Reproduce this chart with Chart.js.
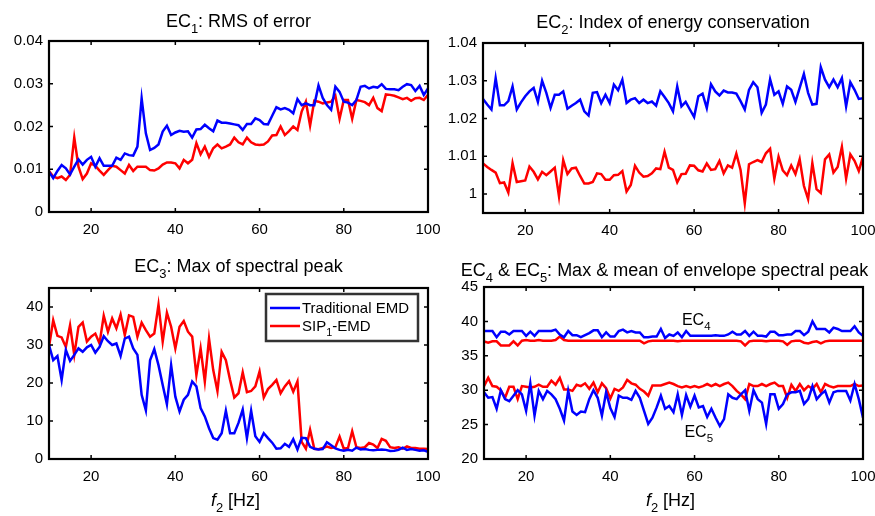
<!DOCTYPE html>
<html lang="en">
  <head>
    <meta charset="UTF-8" />
    <title>Traditional EMD vs SIP1-EMD</title>
    <script src="https://cdn.jsdelivr.net/npm/chart.js"></script>
    <style>
      body { margin: 0; background: #fff; }
      #wrap { position: relative; width: 875px; height: 516px; }
      #wrap canvas { position: absolute; left: 0; top: 0; }
    </style>
  </head>
  <body>
    <div id="wrap">
      <canvas id="ec1" width="875" height="516"></canvas>
      <canvas id="ec2" width="875" height="516"></canvas>
      <canvas id="ec3" width="875" height="516"></canvas>
      <canvas id="ec45" width="875" height="516"></canvas>
    </div>

    <script>
      // f2 [Hz]
      const f2 = [
        10, 11, 12, 13, 14, 15, 16, 17, 18, 19,
        20, 21, 22, 23, 24, 25, 26, 27, 28, 29,
        30, 31, 32, 33, 34, 35, 36, 37, 38, 39,
        40, 41, 42, 43, 44, 45, 46, 47, 48, 49,
        50, 51, 52, 53, 54, 55, 56, 57, 58, 59,
        60, 61, 62, 63, 64, 65, 66, 67, 68, 69,
        70, 71, 72, 73, 74, 75, 76, 77, 78, 79,
        80, 81, 82, 83, 84, 85, 86, 87, 88, 89,
        90, 91, 92, 93, 94, 95, 96, 97, 98, 99,
        100,
      ];
      const xTicks = [20, 40, 60, 80, 100];

      // EC1: RMS of error
      const ec1Trad = [
        0.0094, 0.0079, 0.0096, 0.011, 0.0102, 0.0088, 0.0106, 0.0123, 0.0111, 0.0122,
        0.0129, 0.0106, 0.0126, 0.0108, 0.0108, 0.0108, 0.0127, 0.0122, 0.0137, 0.0133,
        0.0132, 0.0153, 0.0266, 0.0184, 0.0145, 0.015, 0.0158, 0.0188, 0.0202, 0.018,
        0.0186, 0.019, 0.0188, 0.0189, 0.0174, 0.0193, 0.0194, 0.0204, 0.0196, 0.0189,
        0.0214, 0.0209, 0.0209, 0.0207, 0.0205, 0.0203, 0.0192, 0.0206, 0.0206, 0.0219,
        0.0215, 0.0206, 0.0205, 0.0225, 0.0245, 0.024, 0.0243, 0.0239, 0.0231, 0.0264,
        0.025, 0.0254, 0.025, 0.025, 0.0296, 0.0267, 0.025, 0.0239, 0.0293, 0.0281,
        0.0258, 0.0256, 0.025, 0.0262, 0.0293, 0.0295, 0.0289, 0.0293, 0.0291, 0.0299,
        0.0288, 0.0287, 0.0287, 0.0285, 0.0293, 0.0299, 0.0297, 0.0283, 0.0295, 0.0274,
        0.0289,
      ];
      const ec1Sip = [
        0.0096, 0.0083, 0.0079, 0.0083, 0.0075, 0.0087, 0.0174, 0.0106, 0.0077, 0.009,
        0.0114, 0.0108, 0.0097, 0.0087, 0.0098, 0.0108, 0.0106, 0.0098, 0.009, 0.011,
        0.0096, 0.0106, 0.0106, 0.0106, 0.0098, 0.0097, 0.0102, 0.0111, 0.0116, 0.0116,
        0.0114, 0.0102, 0.0122, 0.0114, 0.0122, 0.0161, 0.0135, 0.0153, 0.0129, 0.0149,
        0.0158, 0.0149, 0.0153, 0.0158, 0.0174, 0.0163, 0.0158, 0.0174, 0.0163, 0.0158,
        0.0157, 0.0158, 0.0165, 0.0179, 0.018, 0.02, 0.018, 0.0189, 0.02, 0.0192,
        0.0235, 0.0258, 0.0202, 0.026, 0.0258, 0.0254, 0.0256, 0.0258, 0.0272, 0.0218,
        0.0262, 0.0262, 0.0218, 0.0262, 0.026, 0.0257, 0.025, 0.0267, 0.0243, 0.0236,
        0.0275, 0.0274, 0.0272, 0.0268, 0.0264, 0.0267, 0.026, 0.0266, 0.0267, 0.0262,
        0.0274,
      ];
      const ec1Ticks = [0, 0.01, 0.02, 0.03, 0.04];
      const ec1Labels = ["0", "0.01", "0.02", "0.03", "0.04"];

      // EC2: Index of energy conservation
      const ec2Trad = [
        1.0252, 1.0237, 1.0224, 1.0307, 1.0235, 1.0235, 1.0246, 1.0285, 1.0224, 1.0243,
        1.0259, 1.0272, 1.0281, 1.0244, 1.03, 1.0268, 1.0228, 1.0263, 1.0263, 1.0272,
        1.0226, 1.0234, 1.0241, 1.025, 1.0219, 1.0208, 1.0268, 1.027, 1.0241, 1.0263,
        1.0241, 1.029, 1.0275, 1.0303, 1.0241, 1.025, 1.0254, 1.0241, 1.025, 1.0241,
        1.0245, 1.0234, 1.0272, 1.0257, 1.0241, 1.0219, 1.0285, 1.0232, 1.0244, 1.0224,
        1.0204, 1.0259, 1.0266, 1.0228, 1.0291, 1.0272, 1.0261, 1.0274, 1.0269, 1.0269,
        1.0266, 1.0246, 1.0224, 1.0276, 1.0296, 1.0283, 1.0215, 1.0237, 1.0304, 1.0263,
        1.0272, 1.0239, 1.0285, 1.0276, 1.0244, 1.0281, 1.0318, 1.0268, 1.0237, 1.0239,
        1.0336, 1.0303, 1.0283, 1.0303, 1.0283, 1.0307, 1.0232, 1.0296, 1.0276, 1.0252,
        1.0254,
      ];
      const ec2Sip = [
        1.0081, 1.0072, 1.0064, 1.0057, 1.0029, 1.0031, 1.0004, 1.0082, 1.0032, 1.0034,
        1.0036, 1.0073, 1.0059, 1.0039, 1.0059, 1.005, 1.006, 1.007, 0.9994, 1.009,
        1.0053, 1.0068, 1.007, 1.0048, 1.0028, 1.0028, 1.0032, 1.0055, 1.0053, 1.0038,
        1.0038, 1.005, 1.0051, 1.0061, 1.0007, 1.0024, 1.0075, 1.0057, 1.0046, 1.0048,
        1.0055, 1.0068, 1.0066, 1.0112, 1.007, 1.0064, 1.0031, 1.0053, 1.0054, 1.0076,
        1.0075, 1.0063, 1.006, 1.0081, 1.0064, 1.0066, 1.0088, 1.0055, 1.0076, 1.007,
        1.0107, 1.0064, 0.9976, 1.0079, 1.0085, 1.009, 1.0085, 1.0108, 1.012, 1.0041,
        1.0099, 1.0063, 1.005, 1.0076, 1.0053, 1.0092, 1.0022, 0.9987, 1.0082, 1.0013,
        1.0003, 1.0092, 1.0105, 1.0057, 1.0072, 1.0125, 1.0041, 1.0105, 1.0088, 1.0061,
        1.0099,
      ];
      const ec2Ticks = [1, 1.01, 1.02, 1.03, 1.04];
      const ec2Labels = ["1", "1.01", "1.02", "1.03", "1.04"];

      // EC3: Max of spectral peak
      const ec3Trad = [
        30, 26, 27.1, 20.8, 28.7, 25.8, 27.4, 29.1, 28.2, 29.4,
        30, 28, 29.5, 32.3, 31, 30, 30.4, 27.1, 31.7, 32.2,
        29.1, 27.4, 16.9, 12.8, 26, 28.9, 24.7, 19.5, 14.4, 24.7,
        16.4, 12.5, 15.6, 16.9, 20.4, 19.1, 13.4, 11.2, 8.1, 5.5,
        5.1, 6.8, 12.7, 6.8, 6.8, 9.5, 13, 5.5, 12.7, 6,
        4.5, 6.8, 5.5, 4.3, 2.7, 2.8, 4, 3.2, 5.2, 2.5,
        5.6, 5.5, 3.2, 2.7, 2.5, 2.6, 4.4, 3.6, 2.8, 2.4,
        2.2, 2.4, 2.2, 3, 2.5, 2.6, 2.4, 2.3, 2.4, 2.5,
        2.4, 2.1, 2.2, 2.4, 3, 2.4, 2.6, 2.4, 2.2, 2.3,
        1.9,
      ];
      const ec3Sip = [
        29.5, 36.5, 32.4, 32, 29.5, 35.2, 27.4, 34.8, 35.9, 30.9,
        32.2, 33, 30.4, 37.7, 33.5, 37, 34.4, 38, 32.6, 37.8,
        37.4, 32.2, 35.9, 33.9, 32.2, 33, 40.6, 30.9, 38.5, 34.8,
        29.1, 34.8, 36.3, 33.5, 32.2, 22.1, 29.1, 20.4, 31.7, 23.4,
        17.9, 28.2, 26, 20.8, 16.2, 17.3, 22.8, 17.6, 17.9, 19.1,
        23, 16.2, 18.4, 19.5, 20.8, 17.3, 19.1, 20.5, 17.7, 20.4,
        4.5, 2.7, 7.7, 2.7, 2.6, 2.9, 3.3, 2.9, 3.1, 5.9,
        2.7, 2.9, 7.3, 3.1, 2.9, 3.1, 4.2, 3.8, 2.9, 5.3,
        4.8, 3.1, 2.9, 3.1, 2.7, 3.3, 2.9, 2.9, 2.7, 2.7,
        2.6,
      ];
      const ec3Ticks = [0, 10, 20, 30, 40];
      const ec3Labels = ["0", "10", "20", "30", "40"];

      // EC4 & EC5: Max & mean of envelope spectral peak
      const ec4Trad = [
        38.6, 38.6, 38.6, 37.7, 38.5, 38.5, 38.1, 38.6, 38.6, 38.6,
        37.9, 38.5, 37.9, 38.6, 38.6, 38.6, 38.6, 38.8, 38.1, 37.7,
        38.6, 38, 38, 37.7, 38, 38.3, 38.7, 38.7, 37.7, 38.4,
        37.8, 37.8, 38.6, 38.8, 38.4, 38.6, 38.4, 38.4, 37.7, 37.7,
        37.8, 37.8, 38.9, 37.6, 38.1, 37.9, 38.4, 37.7, 38.6, 37.9,
        37.9, 37.9, 37.9, 37.9, 37.9, 38, 37.9, 37.9, 38.1, 38.5,
        38.1, 38.1, 38.6, 37.9, 38.5, 37.9, 37.9, 37.8, 38.5, 38.5,
        38, 38, 38.1, 38.1, 38.6, 38.6, 38, 38.5, 40, 38.9,
        38.9, 38.9, 38.4, 39.1, 38.9, 38.6, 38.6, 38.6, 39.3, 38.4,
        37.9,
      ];
      const ec4Sip = [
        37.1, 36.9, 37.1, 37.1, 36.5, 36.5, 36.5, 37.1, 36.5, 37.2,
        37.3, 37.2, 37.2, 37.3, 37.2, 37.2, 37.2, 37.3, 37.8, 37.3,
        37.2, 37.2, 37.2, 37.2, 37.2, 37.2, 37.2, 37.2, 37.2, 37.2,
        37.2, 37.2, 37.2, 37.2, 37.2, 37.2, 37.2, 37.2, 36.8, 37.1,
        37.2, 37.2, 37.2, 37.2, 37.2, 37.2, 37.1, 37.2, 37.2, 37.2,
        37.2, 37.2, 37.2, 37.2, 37.2, 37.2, 37.2, 37.2, 37.2, 37.2,
        37.2, 37.1, 36.5, 37.1, 37.2, 37.2, 37.2, 37.1, 37.2, 37.2,
        37.2, 37.1, 36.6, 37.1, 37.2, 37.2, 36.9, 36.8, 37, 37.1,
        36.8, 37.1, 37.2, 37.2, 37.2, 37.2, 37.2, 37.2, 37.2, 37.2,
        37.2,
      ];
      const ec5Trad = [
        29.7, 28.9, 29, 27.3, 30, 28.7, 28.4, 29.2, 30, 29.4,
        27, 31, 26.3, 29.9, 28.7, 29.9, 29.4, 28.7, 27.3, 25.6,
        29.9, 26.9, 26.4, 26.9, 26.8, 28.7, 30, 28.9, 26.3, 29.7,
        27.4, 26.1, 29.2, 28.9, 28.9, 28.6, 29.9, 28.9, 27, 25.1,
        26, 27.5, 29.2, 27.3, 27.7, 26.8, 29.4, 26.4, 29.3, 27.6,
        29.2, 27.5, 27.7, 26.1, 27.3, 26, 24.8, 25.8, 29.4, 28.9,
        28.7, 29.4, 30, 27, 30, 28.7, 28.2, 25.1, 29.4, 29.4,
        27.3, 28, 29.4, 29.7, 29.7, 29.9, 28, 28.7, 30.6, 28.7,
        29.4, 29.9, 28.2, 29.7, 29.9, 29.9, 29.9, 28.5, 30.9, 28.7,
        26,
      ];
      const ec5Sip = [
        30.6, 31.8, 30.6, 30.5, 30, 28.9, 30.5, 30.5, 28.7, 30.6,
        30.5, 30.4, 30.5, 30.8, 30.5, 30.5, 31.4, 30.8, 31.8, 30.1,
        30.1, 29.9, 30.8, 30.6, 31, 30.2, 31.1, 29.7, 31, 30.3,
        28.8, 30.2, 29.9, 30.4, 31.5, 31, 30.8, 30.2, 29.8, 29.2,
        30.7, 30.7, 30.7, 30.9, 31.1, 30.9, 30.6, 30.4, 30.6, 30.4,
        30.6, 30.4, 30.6, 30.9, 30.6, 30.9, 30.6, 30.9, 31.1, 30.6,
        29.9, 29.4, 28.7, 30.9, 30.6, 30.6, 30.9, 30.6, 30.9, 31.1,
        30.6, 30.6, 28.9, 30.8, 29.9, 30.9, 30, 30.6, 30.2, 30.9,
        29.7, 30.9, 30.6, 30.4, 30.6, 30.6, 30.6, 30.6, 30.9, 30.6,
        30.7,
      ];
      const ec45Ticks = [20, 25, 30, 35, 40, 45];
      const ec45Labels = ["20", "25", "30", "35", "40", "45"];

      const BLUE = "#0000ff";
      const RED = "#ff0000";
      const FONT = "'Liberation Sans', Arial, Helvetica, sans-serif";
      const W = 875;
      const H = 516;

      // text made of pieces: [text] normal, [text, "sub"] subscript, [text, "it"] italic
      function drawRich(ctx, segs, x, y, size, align) {
        const parts = segs.map(([text, style]) => {
          const sub = style === "sub";
          const fs = sub ? size * 0.72 : size;
          const font = (style === "it" ? "italic " : "") + fs + "px " + FONT;
          ctx.font = font;
          return { text, font, w: ctx.measureText(text).width, dy: sub ? size * 0.32 : 0 };
        });
        const total = parts.reduce((s, p) => s + p.w, 0);
        let cx = align === "center" ? x - total / 2 : x;
        ctx.fillStyle = "#000";
        ctx.textAlign = "left";
        ctx.textBaseline = "alphabetic";
        parts.forEach((p) => {
          ctx.font = p.font;
          ctx.fillText(p.text, cx, y + p.dy);
          cx += p.w;
        });
      }

      // matlab style box: frame, inward ticks, title, xlabel, notes, legend
      const matlabBox = {
        id: "matlabBox",
        afterDatasetsDraw(chart, args, opts) {
          const { ctx, chartArea: a, scales } = chart;
          const midX = (a.left + a.right) / 2;
          ctx.save();
          ctx.strokeStyle = "#000";
          ctx.lineWidth = 1.5;
          ctx.beginPath();
          scales.x.ticks.forEach((t) => {
            const px = scales.x.getPixelForValue(t.value);
            ctx.moveTo(px, a.bottom);
            ctx.lineTo(px, a.bottom - 4);
            ctx.moveTo(px, a.top);
            ctx.lineTo(px, a.top + 4);
          });
          scales.y.ticks.forEach((t) => {
            const py = scales.y.getPixelForValue(t.value);
            ctx.moveTo(a.left, py);
            ctx.lineTo(a.left + 4, py);
            ctx.moveTo(a.right, py);
            ctx.lineTo(a.right - 4, py);
          });
          ctx.stroke();
          ctx.lineWidth = 2.2;
          ctx.strokeRect(a.left, a.top, a.right - a.left, a.bottom - a.top);

          drawRich(ctx, opts.title, midX + (opts.titleDx || 0), a.top - opts.titleDy, 18, "center");
          if (opts.xlabel) {
            drawRich(ctx, opts.xlabel, midX - 3, H - 10, 18, "center");
          }
          (opts.notes || []).forEach((n) => {
            drawRich(ctx, n.segs, scales.x.getPixelForValue(n.x), scales.y.getPixelForValue(n.y), 16, "left");
          });
          if (opts.legend) {
            const lw = 152;
            const lh = 47;
            const lx = a.right - 10 - lw;
            const ly = a.top + 6;
            ctx.fillStyle = "#fff";
            ctx.fillRect(lx, ly, lw, lh);
            ctx.strokeStyle = "#333";
            ctx.lineWidth = 2.5;
            ctx.strokeRect(lx, ly, lw, lh);
            opts.legend.forEach((item, i) => {
              const yy = ly + 14 + i * 18;
              ctx.strokeStyle = item.color;
              ctx.lineWidth = 2.5;
              ctx.beginPath();
              ctx.moveTo(lx + 4, yy);
              ctx.lineTo(lx + 34, yy);
              ctx.stroke();
              drawRich(ctx, item.segs, lx + 36, yy + 5, 15, "left");
            });
          }
          ctx.restore();
        },
      };

      function series(values, color) {
        return {
          data: f2.map((x, i) => ({ x, y: values[i] })),
          borderColor: color,
          backgroundColor: color,
          borderWidth: 2.5,
          pointRadius: 0,
          tension: 0,
        };
      }

      function panel(id, box, yMin, yMax, yTicks, yLabels, datasets, deco) {
        return new Chart(document.getElementById(id), {
          type: "line",
          data: { datasets },
          options: {
            responsive: false,
            animation: false,
            events: [],
            layout: {
              padding: {
                left: box.left - 40,
                right: W - box.right,
                top: box.top,
                bottom: H - box.bottom - 30,
              },
            },
            scales: {
              x: {
                type: "linear",
                min: 10,
                max: 100,
                afterBuildTicks: (ax) => {
                  ax.ticks = xTicks.map((v) => ({ value: v }));
                },
                afterFit: (ax) => {
                  ax.height = 30;
                  ax.paddingLeft = 0;
                  ax.paddingRight = 0;
                },
                grid: { display: false, drawTicks: false },
                border: { display: false },
                ticks: {
                  padding: 9,
                  color: "#000",
                  maxRotation: 0,
                  autoSkip: false,
                  font: { size: 15, family: FONT },
                },
              },
              y: {
                min: yMin,
                max: yMax,
                afterBuildTicks: (ax) => {
                  ax.ticks = yTicks.map((v) => ({ value: v }));
                },
                afterFit: (ax) => {
                  ax.width = 40;
                  ax.paddingTop = 0;
                  ax.paddingBottom = 0;
                },
                grid: { display: false, drawTicks: false },
                border: { display: false },
                ticks: {
                  padding: 6,
                  color: "#000",
                  autoSkip: false,
                  font: { size: 15, family: FONT },
                  callback: (v, i) => yLabels[i],
                },
              },
            },
            plugins: {
              legend: { display: false },
              tooltip: { enabled: false },
              matlabBox: deco,
            },
          },
          plugins: [matlabBox],
        });
      }

      panel(
        "ec1",
        { left: 49, right: 428, top: 41, bottom: 212 },
        0, 0.04, ec1Ticks, ec1Labels,
        [series(ec1Trad, BLUE), series(ec1Sip, RED)],
        { title: [["EC"], ["1", "sub"], [": RMS of error"]], titleDy: 14 }
      );

      panel(
        "ec2",
        { left: 483, right: 863, top: 43, bottom: 213 },
        0.995, 1.04, ec2Ticks, ec2Labels,
        [series(ec2Trad, BLUE), series(ec2Sip, RED)],
        { title: [["EC"], ["2", "sub"], [": Index of energy conservation"]], titleDy: 15 }
      );

      panel(
        "ec3",
        { left: 49, right: 428, top: 288, bottom: 459 },
        0, 45, ec3Ticks, ec3Labels,
        [series(ec3Trad, BLUE), series(ec3Sip, RED)],
        {
          title: [["EC"], ["3", "sub"], [": Max of spectral peak"]],
          titleDy: 16,
          xlabel: [["f", "it"], ["2", "sub"], [" [Hz]"]],
          legend: [
            { color: BLUE, segs: [["Traditional EMD"]] },
            { color: RED, segs: [["SIP"], ["1", "sub"], ["-EMD"]] },
          ],
        }
      );

      panel(
        "ec45",
        { left: 484, right: 863, top: 287, bottom: 459 },
        20, 45, ec45Ticks, ec45Labels,
        [
          series(ec4Trad, BLUE),
          series(ec4Sip, RED),
          series(ec5Trad, BLUE),
          series(ec5Sip, RED),
        ],
        {
          title: [["EC"], ["4", "sub"], [" & EC"], ["5", "sub"], [": Max & mean of envelope spectral peak"]],
          titleDy: 11,
          titleDx: -9,
          xlabel: [["f", "it"], ["2", "sub"], [" [Hz]"]],
          notes: [
            { segs: [["EC"], ["4", "sub"]], x: 57, y: 39.45 },
            { segs: [["EC"], ["5", "sub"]], x: 57.6, y: 23.2 },
          ],
        }
      );
    </script>
  </body>
</html>
